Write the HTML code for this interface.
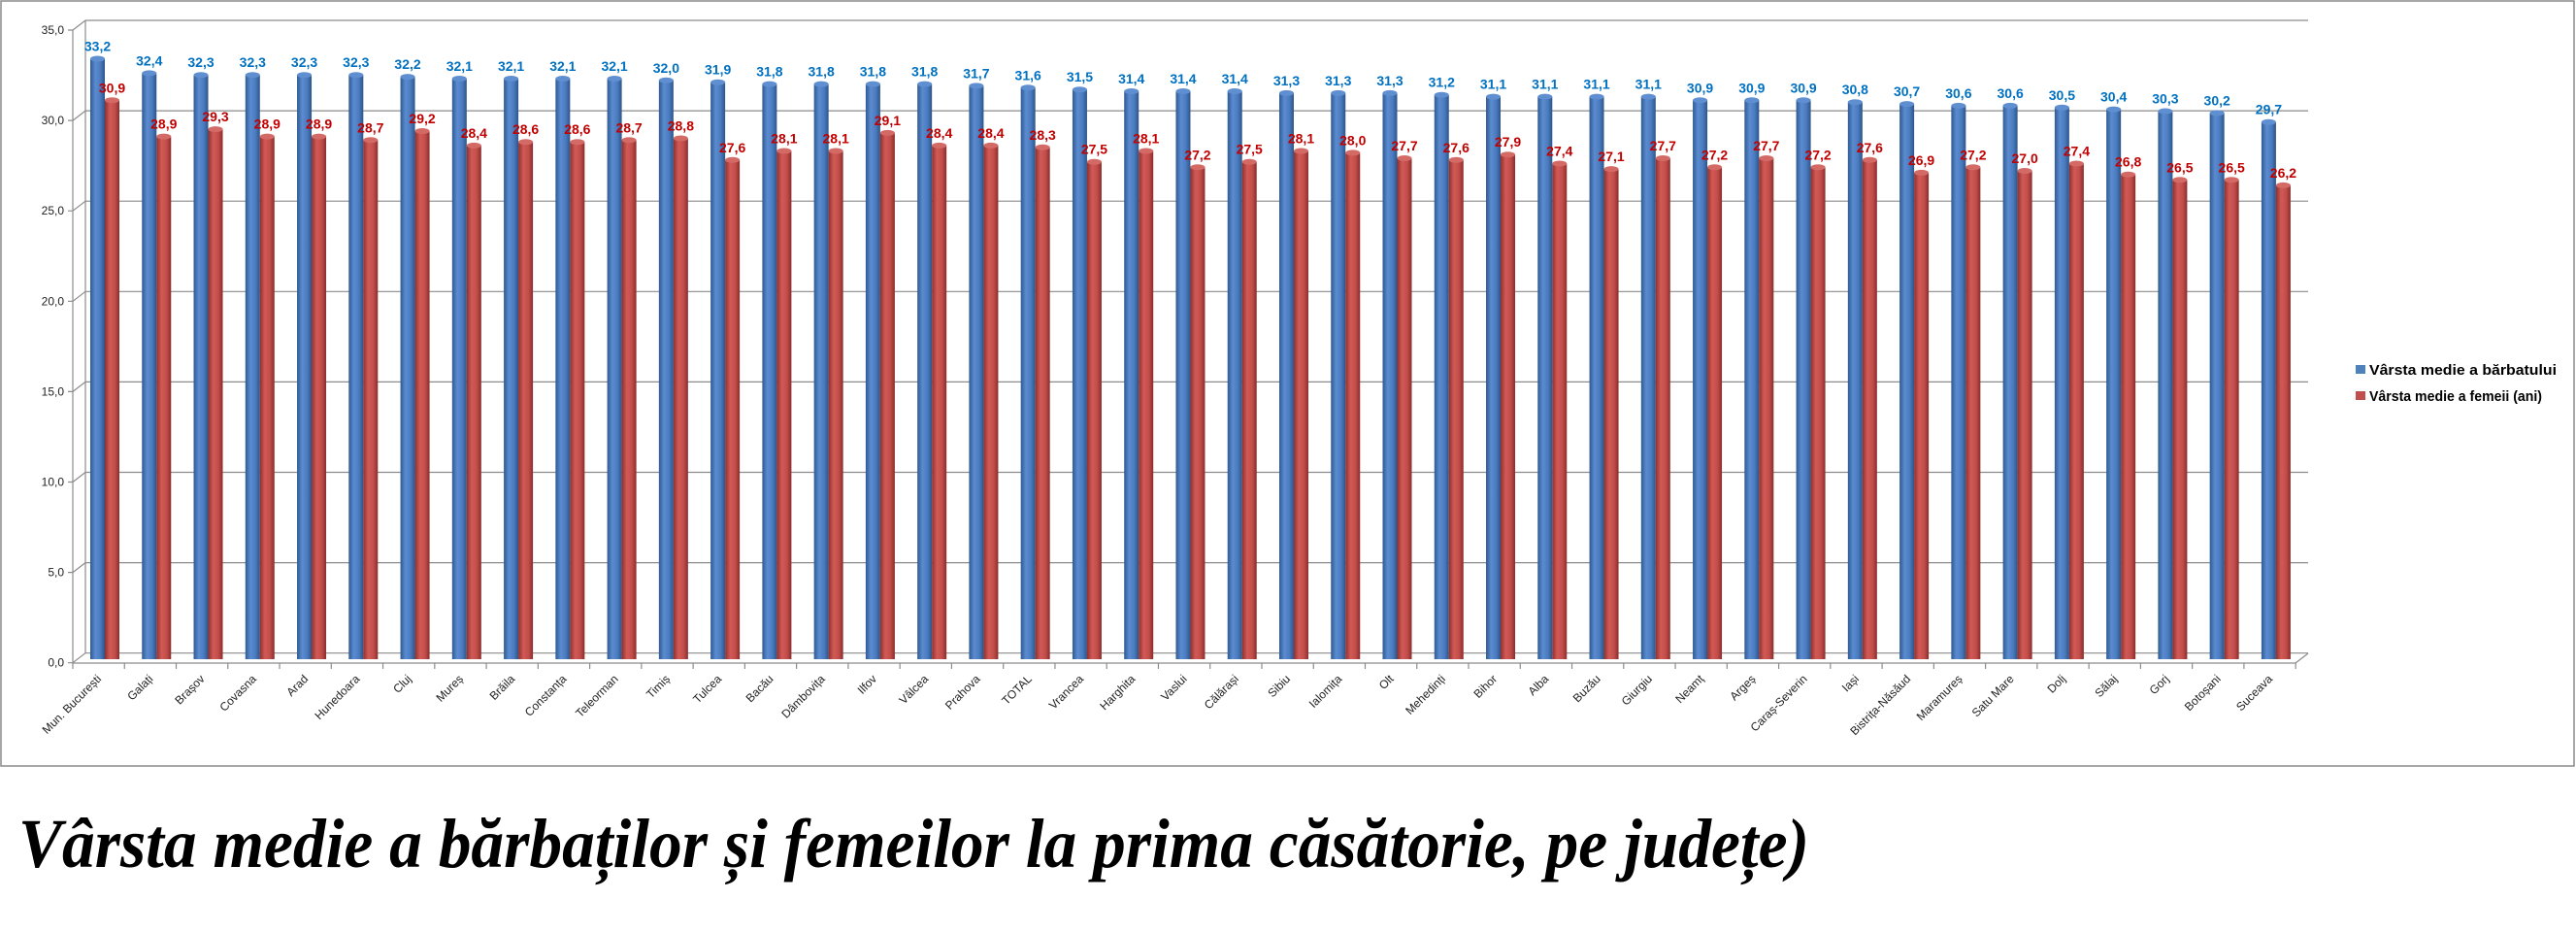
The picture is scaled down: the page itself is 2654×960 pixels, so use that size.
<!DOCTYPE html>
<html><head><meta charset="utf-8"><style>
html,body{margin:0;padding:0;background:#fff;width:2654px;height:960px;overflow:hidden}
svg{display:block}
.g{stroke:#8c8c8c;stroke-width:1.2;fill:none}
.yl{font:12px "Liberation Sans",sans-serif;fill:#222;text-anchor:end}
.cl{font:12px "Liberation Sans",sans-serif;fill:#222;text-anchor:end}
.b{fill:url(#gb)}.r{fill:url(#gr)}
.bc{fill:#5f8fd0}.rc{fill:#d46a66}
.lb{font:bold 14px "Liberation Sans",sans-serif;fill:#0070c0;text-anchor:middle}
.lr{font:bold 14px "Liberation Sans",sans-serif;fill:#c00000;text-anchor:middle}
.leg{font:bold 15px "Liberation Sans",sans-serif;fill:#000}
</style></head><body>
<svg width="2654" height="960" viewBox="0 0 2654 960" xmlns="http://www.w3.org/2000/svg">
<defs>
<linearGradient id="gb" x1="0" x2="1" y1="0" y2="0"><stop offset="0" stop-color="#2e5a92"/><stop offset="0.35" stop-color="#5b8bd0"/><stop offset="0.7" stop-color="#4a7bbf"/><stop offset="1" stop-color="#2d5488"/></linearGradient>
<linearGradient id="gr" x1="0" x2="1" y1="0" y2="0"><stop offset="0" stop-color="#8e302e"/><stop offset="0.35" stop-color="#d25a56"/><stop offset="0.7" stop-color="#c14d4a"/><stop offset="1" stop-color="#8a2d2b"/></linearGradient>
</defs>
<rect x="1" y="1" width="2651" height="788" fill="#fff" stroke="#8a8a8a" stroke-width="1.5"/>
<g class="g">
<path d="M88 21H2378M88 114.1H2378M88 207.2H2378M88 300.3H2378M88 393.4H2378M88 486.5H2378M88 579.6H2378M88 672.7H2378"/>
<path d="M75 31L88 21M75 124.1L88 114.1M75 217.2L88 207.2M75 310.3L88 300.3M75 403.4L88 393.4M75 496.5L88 486.5M75 589.6L88 579.6M75 682.7L88 672.7"/>
<path d="M88 21V673M75 31V683M70 31H75M70 124.1H75M70 217.2H75M70 310.3H75M70 403.4H75M70 496.5H75M70 589.6H75M70 682.7H75"/>
</g>
<g class="yl">
<text x="66" y="35">35,0</text><text x="66" y="128.1">30,0</text><text x="66" y="221.2">25,0</text><text x="66" y="314.3">20,0</text><text x="66" y="407.4">15,0</text><text x="66" y="500.5">10,0</text><text x="66" y="593.6">5,0</text><text x="66" y="686.7">0,0</text>
</g>

<!-- bars (bottom at 679) -->
<g>
<g transform="translate(75)"><rect class="b" x="18" y="60.5" width="15" height="618.5"/><ellipse class="bc" cx="25.5" cy="60.5" rx="7.5" ry="3"/><rect class="r" x="33" y="103.3" width="15" height="575.7"/><ellipse class="rc" cx="40.5" cy="103.3" rx="7.5" ry="3"/><text class="lb" x="25.5" y="52.5">33,2</text><text class="lr" x="40.5" y="95.3">30,9</text></g>
<g transform="translate(128.26)"><rect class="b" x="18" y="75.4" width="15" height="603.6"/><ellipse class="bc" cx="25.5" cy="75.4" rx="7.5" ry="3"/><rect class="r" x="33" y="140.6" width="15" height="538.4"/><ellipse class="rc" cx="40.5" cy="140.6" rx="7.5" ry="3"/><text class="lb" x="25.5" y="67.4">32,4</text><text class="lr" x="40.5" y="132.6">28,9</text></g>
<g transform="translate(181.52)"><rect class="b" x="18" y="77.2" width="15" height="601.8"/><ellipse class="bc" cx="25.5" cy="77.2" rx="7.5" ry="3"/><rect class="r" x="33" y="133.1" width="15" height="545.9"/><ellipse class="rc" cx="40.5" cy="133.1" rx="7.5" ry="3"/><text class="lb" x="25.5" y="69.2">32,3</text><text class="lr" x="40.5" y="125.1">29,3</text></g>
<g transform="translate(234.78)"><rect class="b" x="18" y="77.2" width="15" height="601.8"/><ellipse class="bc" cx="25.5" cy="77.2" rx="7.5" ry="3"/><rect class="r" x="33" y="140.6" width="15" height="538.4"/><ellipse class="rc" cx="40.5" cy="140.6" rx="7.5" ry="3"/><text class="lb" x="25.5" y="69.2">32,3</text><text class="lr" x="40.5" y="132.6">28,9</text></g>
<g transform="translate(288.04)"><rect class="b" x="18" y="77.2" width="15" height="601.8"/><ellipse class="bc" cx="25.5" cy="77.2" rx="7.5" ry="3"/><rect class="r" x="33" y="140.6" width="15" height="538.4"/><ellipse class="rc" cx="40.5" cy="140.6" rx="7.5" ry="3"/><text class="lb" x="25.5" y="69.2">32,3</text><text class="lr" x="40.5" y="132.6">28,9</text></g>
<g transform="translate(341.3)"><rect class="b" x="18" y="77.2" width="15" height="601.8"/><ellipse class="bc" cx="25.5" cy="77.2" rx="7.5" ry="3"/><rect class="r" x="33" y="144.3" width="15" height="534.7"/><ellipse class="rc" cx="40.5" cy="144.3" rx="7.5" ry="3"/><text class="lb" x="25.5" y="69.2">32,3</text><text class="lr" x="40.5" y="136.3">28,7</text></g>
<g transform="translate(394.56)"><rect class="b" x="18" y="79.1" width="15" height="599.9"/><ellipse class="bc" cx="25.5" cy="79.1" rx="7.5" ry="3"/><rect class="r" x="33" y="135" width="15" height="544"/><ellipse class="rc" cx="40.5" cy="135" rx="7.5" ry="3"/><text class="lb" x="25.5" y="71.1">32,2</text><text class="lr" x="40.5" y="127">29,2</text></g>
<g transform="translate(447.82)"><rect class="b" x="18" y="81" width="15" height="598"/><ellipse class="bc" cx="25.5" cy="81" rx="7.5" ry="3"/><rect class="r" x="33" y="149.9" width="15" height="529.1"/><ellipse class="rc" cx="40.5" cy="149.9" rx="7.5" ry="3"/><text class="lb" x="25.5" y="73">32,1</text><text class="lr" x="40.5" y="141.9">28,4</text></g>
<g transform="translate(501.08)"><rect class="b" x="18" y="81" width="15" height="598"/><ellipse class="bc" cx="25.5" cy="81" rx="7.5" ry="3"/><rect class="r" x="33" y="146.2" width="15" height="532.8"/><ellipse class="rc" cx="40.5" cy="146.2" rx="7.5" ry="3"/><text class="lb" x="25.5" y="73">32,1</text><text class="lr" x="40.5" y="138.2">28,6</text></g>
<g transform="translate(554.34)"><rect class="b" x="18" y="81" width="15" height="598"/><ellipse class="bc" cx="25.5" cy="81" rx="7.5" ry="3"/><rect class="r" x="33" y="146.2" width="15" height="532.8"/><ellipse class="rc" cx="40.5" cy="146.2" rx="7.5" ry="3"/><text class="lb" x="25.5" y="73">32,1</text><text class="lr" x="40.5" y="138.2">28,6</text></g>
<g transform="translate(607.6)"><rect class="b" x="18" y="81" width="15" height="598"/><ellipse class="bc" cx="25.5" cy="81" rx="7.5" ry="3"/><rect class="r" x="33" y="144.3" width="15" height="534.7"/><ellipse class="rc" cx="40.5" cy="144.3" rx="7.5" ry="3"/><text class="lb" x="25.5" y="73">32,1</text><text class="lr" x="40.5" y="136.3">28,7</text></g>
<g transform="translate(660.86)"><rect class="b" x="18" y="82.8" width="15" height="596.2"/><ellipse class="bc" cx="25.5" cy="82.8" rx="7.5" ry="3"/><rect class="r" x="33" y="142.5" width="15" height="536.5"/><ellipse class="rc" cx="40.5" cy="142.5" rx="7.5" ry="3"/><text class="lb" x="25.5" y="74.8">32,0</text><text class="lr" x="40.5" y="134.5">28,8</text></g>
<g transform="translate(714.12)"><rect class="b" x="18" y="84.7" width="15" height="594.3"/><ellipse class="bc" cx="25.5" cy="84.7" rx="7.5" ry="3"/><rect class="r" x="33" y="164.8" width="15" height="514.2"/><ellipse class="rc" cx="40.5" cy="164.8" rx="7.5" ry="3"/><text class="lb" x="25.5" y="76.7">31,9</text><text class="lr" x="40.5" y="156.8">27,6</text></g>
<g transform="translate(767.38)"><rect class="b" x="18" y="86.6" width="15" height="592.4"/><ellipse class="bc" cx="25.5" cy="86.6" rx="7.5" ry="3"/><rect class="r" x="33" y="155.5" width="15" height="523.5"/><ellipse class="rc" cx="40.5" cy="155.5" rx="7.5" ry="3"/><text class="lb" x="25.5" y="78.6">31,8</text><text class="lr" x="40.5" y="147.5">28,1</text></g>
<g transform="translate(820.64)"><rect class="b" x="18" y="86.6" width="15" height="592.4"/><ellipse class="bc" cx="25.5" cy="86.6" rx="7.5" ry="3"/><rect class="r" x="33" y="155.5" width="15" height="523.5"/><ellipse class="rc" cx="40.5" cy="155.5" rx="7.5" ry="3"/><text class="lb" x="25.5" y="78.6">31,8</text><text class="lr" x="40.5" y="147.5">28,1</text></g>
<g transform="translate(873.9)"><rect class="b" x="18" y="86.6" width="15" height="592.4"/><ellipse class="bc" cx="25.5" cy="86.6" rx="7.5" ry="3"/><rect class="r" x="33" y="136.9" width="15" height="542.1"/><ellipse class="rc" cx="40.5" cy="136.9" rx="7.5" ry="3"/><text class="lb" x="25.5" y="78.6">31,8</text><text class="lr" x="40.5" y="128.9">29,1</text></g>
<g transform="translate(927.16)"><rect class="b" x="18" y="86.6" width="15" height="592.4"/><ellipse class="bc" cx="25.5" cy="86.6" rx="7.5" ry="3"/><rect class="r" x="33" y="149.9" width="15" height="529.1"/><ellipse class="rc" cx="40.5" cy="149.9" rx="7.5" ry="3"/><text class="lb" x="25.5" y="78.6">31,8</text><text class="lr" x="40.5" y="141.9">28,4</text></g>
<g transform="translate(980.42)"><rect class="b" x="18" y="88.4" width="15" height="590.6"/><ellipse class="bc" cx="25.5" cy="88.4" rx="7.5" ry="3"/><rect class="r" x="33" y="149.9" width="15" height="529.1"/><ellipse class="rc" cx="40.5" cy="149.9" rx="7.5" ry="3"/><text class="lb" x="25.5" y="80.4">31,7</text><text class="lr" x="40.5" y="141.9">28,4</text></g>
<g transform="translate(1033.68)"><rect class="b" x="18" y="90.3" width="15" height="588.7"/><ellipse class="bc" cx="25.5" cy="90.3" rx="7.5" ry="3"/><rect class="r" x="33" y="151.8" width="15" height="527.2"/><ellipse class="rc" cx="40.5" cy="151.8" rx="7.5" ry="3"/><text class="lb" x="25.5" y="82.3">31,6</text><text class="lr" x="40.5" y="143.8">28,3</text></g>
<g transform="translate(1086.94)"><rect class="b" x="18" y="92.2" width="15" height="586.8"/><ellipse class="bc" cx="25.5" cy="92.2" rx="7.5" ry="3"/><rect class="r" x="33" y="166.7" width="15" height="512.3"/><ellipse class="rc" cx="40.5" cy="166.7" rx="7.5" ry="3"/><text class="lb" x="25.5" y="84.2">31,5</text><text class="lr" x="40.5" y="158.7">27,5</text></g>
<g transform="translate(1140.2)"><rect class="b" x="18" y="94" width="15" height="585"/><ellipse class="bc" cx="25.5" cy="94" rx="7.5" ry="3"/><rect class="r" x="33" y="155.5" width="15" height="523.5"/><ellipse class="rc" cx="40.5" cy="155.5" rx="7.5" ry="3"/><text class="lb" x="25.5" y="86">31,4</text><text class="lr" x="40.5" y="147.5">28,1</text></g>
<g transform="translate(1193.46)"><rect class="b" x="18" y="94" width="15" height="585"/><ellipse class="bc" cx="25.5" cy="94" rx="7.5" ry="3"/><rect class="r" x="33" y="172.3" width="15" height="506.7"/><ellipse class="rc" cx="40.5" cy="172.3" rx="7.5" ry="3"/><text class="lb" x="25.5" y="86">31,4</text><text class="lr" x="40.5" y="164.3">27,2</text></g>
<g transform="translate(1246.72)"><rect class="b" x="18" y="94" width="15" height="585"/><ellipse class="bc" cx="25.5" cy="94" rx="7.5" ry="3"/><rect class="r" x="33" y="166.7" width="15" height="512.3"/><ellipse class="rc" cx="40.5" cy="166.7" rx="7.5" ry="3"/><text class="lb" x="25.5" y="86">31,4</text><text class="lr" x="40.5" y="158.7">27,5</text></g>
<g transform="translate(1299.98)"><rect class="b" x="18" y="95.9" width="15" height="583.1"/><ellipse class="bc" cx="25.5" cy="95.9" rx="7.5" ry="3"/><rect class="r" x="33" y="155.5" width="15" height="523.5"/><ellipse class="rc" cx="40.5" cy="155.5" rx="7.5" ry="3"/><text class="lb" x="25.5" y="87.9">31,3</text><text class="lr" x="40.5" y="147.5">28,1</text></g>
<g transform="translate(1353.24)"><rect class="b" x="18" y="95.9" width="15" height="583.1"/><ellipse class="bc" cx="25.5" cy="95.9" rx="7.5" ry="3"/><rect class="r" x="33" y="157.4" width="15" height="521.6"/><ellipse class="rc" cx="40.5" cy="157.4" rx="7.5" ry="3"/><text class="lb" x="25.5" y="87.9">31,3</text><text class="lr" x="40.5" y="149.4">28,0</text></g>
<g transform="translate(1406.5)"><rect class="b" x="18" y="95.9" width="15" height="583.1"/><ellipse class="bc" cx="25.5" cy="95.9" rx="7.5" ry="3"/><rect class="r" x="33" y="163" width="15" height="516"/><ellipse class="rc" cx="40.5" cy="163" rx="7.5" ry="3"/><text class="lb" x="25.5" y="87.9">31,3</text><text class="lr" x="40.5" y="155">27,7</text></g>
<g transform="translate(1459.76)"><rect class="b" x="18" y="97.7" width="15" height="581.3"/><ellipse class="bc" cx="25.5" cy="97.7" rx="7.5" ry="3"/><rect class="r" x="33" y="164.8" width="15" height="514.2"/><ellipse class="rc" cx="40.5" cy="164.8" rx="7.5" ry="3"/><text class="lb" x="25.5" y="89.7">31,2</text><text class="lr" x="40.5" y="156.8">27,6</text></g>
<g transform="translate(1513.02)"><rect class="b" x="18" y="99.6" width="15" height="579.4"/><ellipse class="bc" cx="25.5" cy="99.6" rx="7.5" ry="3"/><rect class="r" x="33" y="159.2" width="15" height="519.8"/><ellipse class="rc" cx="40.5" cy="159.2" rx="7.5" ry="3"/><text class="lb" x="25.5" y="91.6">31,1</text><text class="lr" x="40.5" y="151.2">27,9</text></g>
<g transform="translate(1566.28)"><rect class="b" x="18" y="99.6" width="15" height="579.4"/><ellipse class="bc" cx="25.5" cy="99.6" rx="7.5" ry="3"/><rect class="r" x="33" y="168.5" width="15" height="510.5"/><ellipse class="rc" cx="40.5" cy="168.5" rx="7.5" ry="3"/><text class="lb" x="25.5" y="91.6">31,1</text><text class="lr" x="40.5" y="160.5">27,4</text></g>
<g transform="translate(1619.54)"><rect class="b" x="18" y="99.6" width="15" height="579.4"/><ellipse class="bc" cx="25.5" cy="99.6" rx="7.5" ry="3"/><rect class="r" x="33" y="174.1" width="15" height="504.9"/><ellipse class="rc" cx="40.5" cy="174.1" rx="7.5" ry="3"/><text class="lb" x="25.5" y="91.6">31,1</text><text class="lr" x="40.5" y="166.1">27,1</text></g>
<g transform="translate(1672.8)"><rect class="b" x="18" y="99.6" width="15" height="579.4"/><ellipse class="bc" cx="25.5" cy="99.6" rx="7.5" ry="3"/><rect class="r" x="33" y="163" width="15" height="516"/><ellipse class="rc" cx="40.5" cy="163" rx="7.5" ry="3"/><text class="lb" x="25.5" y="91.6">31,1</text><text class="lr" x="40.5" y="155">27,7</text></g>
<g transform="translate(1726.06)"><rect class="b" x="18" y="103.3" width="15" height="575.7"/><ellipse class="bc" cx="25.5" cy="103.3" rx="7.5" ry="3"/><rect class="r" x="33" y="172.3" width="15" height="506.7"/><ellipse class="rc" cx="40.5" cy="172.3" rx="7.5" ry="3"/><text class="lb" x="25.5" y="95.3">30,9</text><text class="lr" x="40.5" y="164.3">27,2</text></g>
<g transform="translate(1779.32)"><rect class="b" x="18" y="103.3" width="15" height="575.7"/><ellipse class="bc" cx="25.5" cy="103.3" rx="7.5" ry="3"/><rect class="r" x="33" y="163" width="15" height="516"/><ellipse class="rc" cx="40.5" cy="163" rx="7.5" ry="3"/><text class="lb" x="25.5" y="95.3">30,9</text><text class="lr" x="40.5" y="155">27,7</text></g>
<g transform="translate(1832.58)"><rect class="b" x="18" y="103.3" width="15" height="575.7"/><ellipse class="bc" cx="25.5" cy="103.3" rx="7.5" ry="3"/><rect class="r" x="33" y="172.3" width="15" height="506.7"/><ellipse class="rc" cx="40.5" cy="172.3" rx="7.5" ry="3"/><text class="lb" x="25.5" y="95.3">30,9</text><text class="lr" x="40.5" y="164.3">27,2</text></g>
<g transform="translate(1885.84)"><rect class="b" x="18" y="105.2" width="15" height="573.8"/><ellipse class="bc" cx="25.5" cy="105.2" rx="7.5" ry="3"/><rect class="r" x="33" y="164.8" width="15" height="514.2"/><ellipse class="rc" cx="40.5" cy="164.8" rx="7.5" ry="3"/><text class="lb" x="25.5" y="97.2">30,8</text><text class="lr" x="40.5" y="156.8">27,6</text></g>
<g transform="translate(1939.1)"><rect class="b" x="18" y="107.1" width="15" height="571.9"/><ellipse class="bc" cx="25.5" cy="107.1" rx="7.5" ry="3"/><rect class="r" x="33" y="177.9" width="15" height="501.1"/><ellipse class="rc" cx="40.5" cy="177.9" rx="7.5" ry="3"/><text class="lb" x="25.5" y="99.1">30,7</text><text class="lr" x="40.5" y="169.9">26,9</text></g>
<g transform="translate(1992.36)"><rect class="b" x="18" y="108.9" width="15" height="570.1"/><ellipse class="bc" cx="25.5" cy="108.9" rx="7.5" ry="3"/><rect class="r" x="33" y="172.3" width="15" height="506.7"/><ellipse class="rc" cx="40.5" cy="172.3" rx="7.5" ry="3"/><text class="lb" x="25.5" y="100.9">30,6</text><text class="lr" x="40.5" y="164.3">27,2</text></g>
<g transform="translate(2045.62)"><rect class="b" x="18" y="108.9" width="15" height="570.1"/><ellipse class="bc" cx="25.5" cy="108.9" rx="7.5" ry="3"/><rect class="r" x="33" y="176" width="15" height="503"/><ellipse class="rc" cx="40.5" cy="176" rx="7.5" ry="3"/><text class="lb" x="25.5" y="100.9">30,6</text><text class="lr" x="40.5" y="168">27,0</text></g>
<g transform="translate(2098.88)"><rect class="b" x="18" y="110.8" width="15" height="568.2"/><ellipse class="bc" cx="25.5" cy="110.8" rx="7.5" ry="3"/><rect class="r" x="33" y="168.5" width="15" height="510.5"/><ellipse class="rc" cx="40.5" cy="168.5" rx="7.5" ry="3"/><text class="lb" x="25.5" y="102.8">30,5</text><text class="lr" x="40.5" y="160.5">27,4</text></g>
<g transform="translate(2152.14)"><rect class="b" x="18" y="112.6" width="15" height="566.4"/><ellipse class="bc" cx="25.5" cy="112.6" rx="7.5" ry="3"/><rect class="r" x="33" y="179.7" width="15" height="499.3"/><ellipse class="rc" cx="40.5" cy="179.7" rx="7.5" ry="3"/><text class="lb" x="25.5" y="104.6">30,4</text><text class="lr" x="40.5" y="171.7">26,8</text></g>
<g transform="translate(2205.4)"><rect class="b" x="18" y="114.5" width="15" height="564.5"/><ellipse class="bc" cx="25.5" cy="114.5" rx="7.5" ry="3"/><rect class="r" x="33" y="185.3" width="15" height="493.7"/><ellipse class="rc" cx="40.5" cy="185.3" rx="7.5" ry="3"/><text class="lb" x="25.5" y="106.5">30,3</text><text class="lr" x="40.5" y="177.3">26,5</text></g>
<g transform="translate(2258.66)"><rect class="b" x="18" y="116.4" width="15" height="562.6"/><ellipse class="bc" cx="25.5" cy="116.4" rx="7.5" ry="3"/><rect class="r" x="33" y="185.3" width="15" height="493.7"/><ellipse class="rc" cx="40.5" cy="185.3" rx="7.5" ry="3"/><text class="lb" x="25.5" y="108.4">30,2</text><text class="lr" x="40.5" y="177.3">26,5</text></g>
<g transform="translate(2311.92)"><rect class="b" x="18" y="125.7" width="15" height="553.3"/><ellipse class="bc" cx="25.5" cy="125.7" rx="7.5" ry="3"/><rect class="r" x="33" y="190.9" width="15" height="488.1"/><ellipse class="rc" cx="40.5" cy="190.9" rx="7.5" ry="3"/><text class="lb" x="25.5" y="117.7">29,7</text><text class="lr" x="40.5" y="182.9">26,2</text></g>
</g>

<g class="g"><path d="M75 683H2365L2378 673"/>
<path d="M75 683v6M128.26 683v6M181.52 683v6M234.78 683v6M288.04 683v6M341.3 683v6M394.56 683v6M447.82 683v6M501.08 683v6M554.34 683v6M607.6 683v6M660.86 683v6M714.12 683v6M767.38 683v6M820.64 683v6M873.9 683v6M927.16 683v6M980.42 683v6M1033.68 683v6M1086.94 683v6M1140.2 683v6M1193.46 683v6M1246.72 683v6M1299.98 683v6M1353.24 683v6M1406.5 683v6M1459.76 683v6M1513.02 683v6M1566.28 683v6M1619.54 683v6M1672.8 683v6M1726.06 683v6M1779.32 683v6M1832.58 683v6M1885.84 683v6M1939.1 683v6M1992.36 683v6M2045.62 683v6M2098.88 683v6M2152.14 683v6M2205.4 683v6M2258.66 683v6M2311.92 683v6M2365.18 683v6"/></g>

<g class="cl">
<text transform="translate(105,700) rotate(-45)">Mun. București</text>
<text transform="translate(158.26,700) rotate(-45)">Galați</text>
<text transform="translate(211.52,700) rotate(-45)">Brașov</text>
<text transform="translate(264.78,700) rotate(-45)">Covasna</text>
<text transform="translate(318.04,700) rotate(-45)">Arad</text>
<text transform="translate(371.3,700) rotate(-45)">Hunedoara</text>
<text transform="translate(424.56,700) rotate(-45)">Cluj</text>
<text transform="translate(477.82,700) rotate(-45)">Mureș</text>
<text transform="translate(531.08,700) rotate(-45)">Brăila</text>
<text transform="translate(584.34,700) rotate(-45)">Constanța</text>
<text transform="translate(637.6,700) rotate(-45)">Teleorman</text>
<text transform="translate(690.86,700) rotate(-45)">Timiș</text>
<text transform="translate(744.12,700) rotate(-45)">Tulcea</text>
<text transform="translate(797.38,700) rotate(-45)">Bacău</text>
<text transform="translate(850.64,700) rotate(-45)">Dâmbovița</text>
<text transform="translate(903.9,700) rotate(-45)">Ilfov</text>
<text transform="translate(957.16,700) rotate(-45)">Vâlcea</text>
<text transform="translate(1010.42,700) rotate(-45)">Prahova</text>
<text transform="translate(1063.68,700) rotate(-45)">TOTAL</text>
<text transform="translate(1116.94,700) rotate(-45)">Vrancea</text>
<text transform="translate(1170.2,700) rotate(-45)">Harghita</text>
<text transform="translate(1223.46,700) rotate(-45)">Vaslui</text>
<text transform="translate(1276.72,700) rotate(-45)">Călărași</text>
<text transform="translate(1329.98,700) rotate(-45)">Sibiu</text>
<text transform="translate(1383.24,700) rotate(-45)">Ialomița</text>
<text transform="translate(1436.5,700) rotate(-45)">Olt</text>
<text transform="translate(1489.76,700) rotate(-45)">Mehedinți</text>
<text transform="translate(1543.02,700) rotate(-45)">Bihor</text>
<text transform="translate(1596.28,700) rotate(-45)">Alba</text>
<text transform="translate(1649.54,700) rotate(-45)">Buzău</text>
<text transform="translate(1702.8,700) rotate(-45)">Giurgiu</text>
<text transform="translate(1756.06,700) rotate(-45)">Neamț</text>
<text transform="translate(1809.32,700) rotate(-45)">Argeș</text>
<text transform="translate(1862.58,700) rotate(-45)">Caraș-Severin</text>
<text transform="translate(1915.84,700) rotate(-45)">Iași</text>
<text transform="translate(1969.1,700) rotate(-45)">Bistrița-Năsăud</text>
<text transform="translate(2022.36,700) rotate(-45)">Maramureș</text>
<text transform="translate(2075.62,700) rotate(-45)">Satu Mare</text>
<text transform="translate(2128.88,700) rotate(-45)">Dolj</text>
<text transform="translate(2182.14,700) rotate(-45)">Sălaj</text>
<text transform="translate(2235.4,700) rotate(-45)">Gorj</text>
<text transform="translate(2288.66,700) rotate(-45)">Botoșani</text>
<text transform="translate(2341.92,700) rotate(-45)">Suceava</text>
</g>

<rect x="2427" y="376" width="10" height="9" fill="#4f81bd"/>
<text class="leg" x="2441" y="386" textLength="193" lengthAdjust="spacingAndGlyphs">Vârsta medie a bărbatului</text>
<rect x="2427" y="403" width="10" height="9" fill="#c0504d"/>
<text class="leg" x="2441" y="413" textLength="178" lengthAdjust="spacingAndGlyphs">Vârsta medie a femeii (ani)</text>

<text x="19" y="893" textLength="1845" lengthAdjust="spacingAndGlyphs" style="font:italic bold 72px 'Liberation Serif',serif;fill:#000">Vârsta medie a bărbaților și femeilor la prima căsătorie, pe județe)</text>
</svg>
</body></html>
